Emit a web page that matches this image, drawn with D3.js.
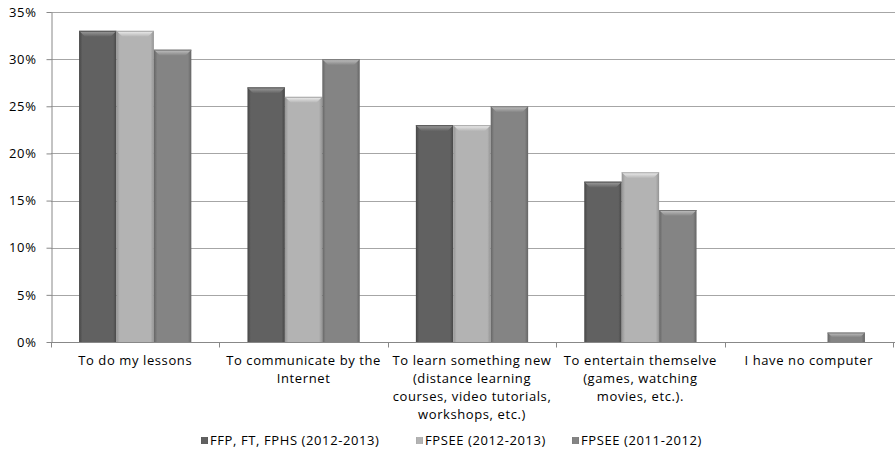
<!DOCTYPE html>
<html><head><meta charset="utf-8">
<script src="https://cdn.jsdelivr.net/npm/d3@7"></script>
<style>
html,body{margin:0;padding:0;background:#fff;}
svg{display:block;font-family:"Open Sans", Lato, sans-serif;}
svg text{letter-spacing:0.6px;}
</style></head>
<body><svg id="chart" width="895" height="467"></svg>
<script>
const categories = ["To do my lessons","To communicate by the Internet","To learn something new (distance learning courses, video tutorials, workshops, etc.)","To entertain themselve (games, watching movies, etc.).","I have no computer"];
const categoryLines = [
  ["To do my lessons"],
  ["To communicate by the","Internet"],
  ["To learn something new","(distance learning","courses, video tutorials,","workshops, etc.)"],
  ["To entertain themselve","(games, watching","movies, etc.)."],
  ["I have no computer"]
];
const seriesNames = ["FFP, FT, FPHS (2012-2013)","FPSEE (2012-2013)","FPSEE (2011-2012)"];
const ffp2012 = [0.33,0.27,0.23,0.17,0];
const fpsee2012 = [0.33,0.26,0.23,0.18,0];
const fpsee2011 = [0.31,0.30,0.25,0.14,0.01];
const yTicks = [0,0.05,0.10,0.15,0.20,0.25,0.30,0.35];

const seriesValues = [ffp2012, fpsee2012, fpsee2011];
const seriesColors = [
  {base:"#616161", dark:"#464646", light:"#a0a0a0", edge:"#555"},
  {base:"#b3b3b3", dark:"#949494", light:"#f0f0f0", edge:"#a8a8a8"},
  {base:"#848484", dark:"#656565", light:"#c4c4c4", edge:"#777"}
];

const svg = d3.select("#chart");
const mLeft = 51, mRight = 893, mTop = 12, mBottom = 342;

const x0 = d3.scaleBand().domain(categories).range([mLeft, mRight]).paddingInner(0).paddingOuter(0);
const x1 = d3.scaleBand().domain(d3.range(3)).range([0, x0.bandwidth()]).paddingInner(0).paddingOuter(0.75);
const y = d3.scaleLinear().domain([0, 0.35]).range([mBottom, mTop]);

const defs = svg.append("defs");
seriesColors.forEach((c, i) => {
  const g = defs.append("linearGradient").attr("id", "side" + i).attr("x1", 0).attr("x2", 1).attr("y1", 0).attr("y2", 0);
  g.append("stop").attr("offset", "0%").attr("stop-color", c.dark);
  g.append("stop").attr("offset", "9%").attr("stop-color", c.base);
  g.append("stop").attr("offset", "91%").attr("stop-color", c.base);
  g.append("stop").attr("offset", "100%").attr("stop-color", c.dark);
  const t = defs.append("linearGradient").attr("id", "top" + i).attr("x1", 0).attr("x2", 0).attr("y1", 0).attr("y2", 1);
  t.append("stop").attr("offset", "0%").attr("stop-color", c.light);
  t.append("stop").attr("offset", "100%").attr("stop-color", c.base);
});

// gridlines
svg.append("g").selectAll("line").data(yTicks.slice(1)).join("line")
  .attr("x1", mLeft).attr("x2", mRight + 2)
  .attr("y1", d => Math.round(y(d)) + 0.5).attr("y2", d => Math.round(y(d)) + 0.5)
  .attr("stroke", "#a6a6a6").attr("stroke-width", 1);

// bars
const bevel = 6;
seriesValues.forEach((vals, si) => {
  const g = svg.append("g");
  const data = categories.map((c, ci) => ({c, v: vals[ci]})).filter(d => d.v > 0);
  g.selectAll("rect").data(data).join("rect")
    .attr("x", d => x0(d.c) + x1(si))
    .attr("y", d => y(d.v))
    .attr("width", x1.bandwidth())
    .attr("height", d => y(0) - y(d.v))
    .attr("fill", `url(#side${si})`);
  g.selectAll("path").data(data).join("path")
    .attr("d", d => {
      const xa = x0(d.c) + x1(si), xb = xa + x1.bandwidth(), yt = y(d.v);
      const b = Math.min(bevel, (y(0) - yt) / 2);
      return `M${xa},${yt}L${xb},${yt}L${xb - b},${yt + b}L${xa + b},${yt + b}Z`;
    })
    .attr("fill", `url(#top${si})`);
  g.selectAll("line").data(data).join("line")
    .attr("x1", d => x0(d.c) + x1(si)).attr("x2", d => x0(d.c) + x1(si) + x1.bandwidth())
    .attr("y1", d => y(d.v) + 0.5).attr("y2", d => y(d.v) + 0.5)
    .attr("stroke", seriesColors[si].edge).attr("stroke-width", 1);
});

// y axis
const yAxis = svg.append("g").attr("transform", `translate(${mLeft + 0.5},0)`)
  .call(d3.axisLeft(y).tickValues(yTicks).tickFormat(d3.format(".0%")).tickSize(5).tickSizeOuter(0));
yAxis.select(".domain").attr("stroke", "#888");
yAxis.selectAll(".tick line").attr("stroke", "#888");
yAxis.selectAll(".tick text").attr("font-size", 13).attr("font-family", "Open Sans").attr("fill", "#000").attr("x", -15);

// x axis
const xAxisG = svg.append("g").attr("transform", `translate(0,${mBottom + 0.5})`);
xAxisG.append("line").attr("x1", mLeft).attr("x2", mRight + 2).attr("stroke", "#888");
xAxisG.selectAll("line.tk").data(categories.concat(["__end"])).join("line").attr("class", "tk")
  .attr("x1", (d, i) => i < categories.length ? Math.round(x0(d)) + 0.5 : mRight + 0.5)
  .attr("x2", (d, i) => i < categories.length ? Math.round(x0(d)) + 0.5 : mRight + 0.5)
  .attr("y1", 0).attr("y2", 5).attr("stroke", "#888");

const labels = xAxisG.selectAll("text").data(categories).join("text")
  .attr("text-anchor", "middle").attr("font-size", 13).attr("fill", "#000")
  .attr("x", d => x0(d) + x0.bandwidth() / 2)
  .attr("y", 22);
labels.each(function(d, i) {
  d3.select(this).selectAll("tspan").data(categoryLines[i]).join("tspan")
    .attr("x", x0(d) + x0.bandwidth() / 2)
    .attr("dy", (t, j) => j === 0 ? 0 : 18.3)
    .text(t => t);
});

// legend
const legendX = [201, 416, 572];
const lg = svg.append("g").selectAll("g").data(seriesNames).join("g")
  .attr("transform", (d, i) => `translate(${legendX[i]},445)`);
lg.append("rect").attr("x", 0).attr("y", -8).attr("width", 7).attr("height", 7)
  .attr("fill", (d, i) => `url(#side${i})`);
lg.append("text").attr("x", 9).attr("y", 0).attr("font-size", 13).attr("fill", "#000").text(d => d);
</script></body></html>
